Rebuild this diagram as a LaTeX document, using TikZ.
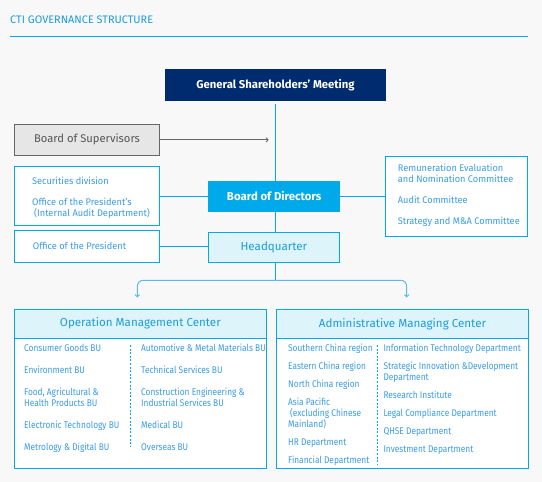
\documentclass[tikz,border=0pt]{standalone}
\usepackage{fontspec}
\setmainfont{Fira Sans}
\newfontfamily\condA[FakeStretch=0.96]{Fira Sans}
\newfontfamily\condB[FakeStretch=0.86]{Fira Sans}
\usetikzlibrary{arrows.meta}
\definecolor{bg}{HTML}{F8F8F8}
\definecolor{cyanb}{HTML}{00A9EA}
\definecolor{navy}{HTML}{002B6E}
\definecolor{lightc}{HTML}{DDF4FB}
\definecolor{txt}{HTML}{3A9CE6}
\definecolor{hdr}{HTML}{1C9DDB}
\definecolor{grayb}{HTML}{666666}
\definecolor{grayt}{HTML}{555555}
\definecolor{grayf}{HTML}{E6E6E6}
\definecolor{branch}{HTML}{5DB9EC}
\begin{document}
\begin{tikzpicture}[x=1pt,y=-1pt,
  outbox/.style={draw=cyanb,line width=1pt,fill=white,inner sep=0},
  lbl/.style={anchor=base west,inner sep=0,text=txt,font=\condA\fontsize{9.6}{11}\selectfont},
  sml/.style={anchor=base west,inner sep=0,text=txt,font=\condB\fontsize{9.7}{11}\selectfont},
  hdrbox/.style={draw=cyanb,line width=1pt,fill=lightc,inner sep=0,text=hdr,font=\fontsize{11.6}{14}\selectfont},
  conn/.style={draw=cyanb,line width=1pt},
  divider/.style={draw=cyanb,line width=0.8pt,dash pattern=on 2pt off 1.6pt},
  tip/.style={-{Straight Barb[length=2.2pt,width=4.5pt]}}]
\useasboundingbox (0,0) rectangle (542,482);
\fill[bg] (0,0) rectangle (542,482);

% title
\node[anchor=base west,inner sep=0,text=hdr,font=\fontsize{10.9}{12}\selectfont] (title) at (10,23.8) {CTI GOVERNANCE STRUCTURE};
\coordinate (ruleL) at (10,36);
\coordinate (ruleR) at (528,36);
\draw[cyanb,line width=1pt] (ruleL) -- (ruleR);

% top boxes
\node[fill=navy,inner sep=0,minimum width=221pt,minimum height=31.7pt,text=white,font=\bfseries\fontsize{11.3}{13}\selectfont] (gsm) at (275.5,84.9) {General Shareholders’ Meeting};
\node[draw=grayb,fill=grayf,line width=1pt,inner sep=0,minimum width=145.4pt,minimum height=31pt,text=grayt,font=\fontsize{11.2}{13}\selectfont] (sup) at (87,139.8) {Board of Supervisors};
\node[outbox,minimum width=145.4pt,minimum height=58.5pt] (sec) at (87,195.75) {};
\node[outbox,minimum width=145.4pt,minimum height=31.7pt] (op) at (87,246.2) {};
\node[fill=cyanb,inner sep=0,minimum width=131.7pt,minimum height=30.7pt,text=white,font=\bfseries\fontsize{11.4}{13}\selectfont] (bod) at (274.2,196.3) {Board of Directors};
\node[draw=cyanb,fill=lightc,line width=1pt,inner sep=0,minimum width=131.2pt,minimum height=30pt,text=hdr,font=\fontsize{11.6}{14}\selectfont] (hq) at (273.9,247.3) {Headquarter};
\node[outbox,minimum width=142.2pt,minimum height=79.8pt] (com) at (456.6,196.4) {};

% texts in side boxes
\node[lbl] (s1) at (32,184.9) {Securities division};
\node[lbl] (s2) at (32,205.9) {Office of the President’s};
\node[lbl] (s3) at (34,216.6) {(Internal Audit Department)};
\node[lbl] (o1) at (32.7,249.9) {Office of the President};
\node[lbl] (c1) at (397.7,171.9) {Remuneration Evaluation};
\node[lbl] (c2) at (397.7,182.9) {and Nomination Committee};
\node[lbl] (c3) at (397.7,203.9) {Audit Committee};
\node[lbl] (c4) at (397.7,224.9) {Strategy and M\&A Committee};

% connectors
\coordinate (gsmtop) at (275.3,104);
\coordinate (supend) at (268.7,139.8);
\coordinate (split) at (275.3,280.3);
\coordinate (ltip) at (137.3,297.5);
\coordinate (rtip) at (406.7,297.5);
\draw[conn] (gsmtop) -- (gsmtop |- bod.north);
\draw[draw=grayb,line width=0.8pt,tip] (sup.east) -- (supend);
\draw[conn] (sec.east |- bod.west) -- (bod.west);
\draw[conn] (bod.east) -- (bod.east -| com.west);
\draw[conn] (gsmtop |- bod.south) -- (gsmtop |- hq.north);
\draw[conn] (op.east) -- (op.east -| hq.west);
\draw[conn] (gsmtop |- hq.south) -- (split);
\draw[draw=branch,line width=1pt,rounded corners=6pt,tip] (split) -| (ltip);
\draw[draw=branch,line width=1pt,rounded corners=6pt,tip] (split) -| (rtip);

% Operation Management Center
\node[outbox,minimum width=252.7pt,minimum height=159.3pt] (omc) at (140.35,388.65) {};
\node[hdrbox,minimum width=252.7pt,minimum height=29.3pt] (omch) at (140.35,323.65) {Operation Management Center};
\draw[divider] (130.3,345) -- (130.3,447);
\node[sml] (a1) at (24,351.9) {Consumer Goods BU};
\node[sml] (a2) at (24,373.9) {Environment BU};
\node[sml] (a3) at (24,395.9) {Food, Agricultural \&};
\node[sml] (a4) at (24,406.9) {Health Products BU};
\node[sml] (a5) at (24,428.9) {Electronic Technology BU};
\node[sml] (a6) at (24,450.9) {Metrology \& Digital BU};
\node[sml] (b1) at (141,351.9) {Automotive \& Metal Materials BU};
\node[sml] (b2) at (141,373.9) {Technical Services BU};
\node[sml] (b3) at (141,395.9) {Construction Engineering \&};
\node[sml] (b4) at (141,406.9) {Industrial Services BU};
\node[sml] (b5) at (141,428.9) {Medical BU};
\node[sml] (b6) at (141,450.9) {Overseas BU};

% Administrative Managing Center
\node[outbox,minimum width=252.4pt,minimum height=159pt] (amc) at (402.5,388.8) {};
\node[hdrbox,minimum width=252.4pt,minimum height=29pt] (amch) at (402.5,323.8) {Administrative Managing Center};
\draw[divider] (377.7,345) -- (377.7,465);
\node[sml] (d1) at (288,351.9) {Southern China region};
\node[sml] (d2) at (288,369.9) {Eastern China region};
\node[sml] (d3) at (288,387.9) {North China region};
\node[sml] (d4) at (288,405.9) {Asia Pacific};
\node[sml] (d5) at (290,416.9) {(excluding Chinese};
\node[sml] (d6) at (288,427.9) {Mainland)};
\node[sml] (d7) at (288,445.9) {HR Department};
\node[sml] (d8) at (288,463.9) {Financial Department};
\node[sml] (e1) at (383.3,351.9) {Information Technology Department};
\node[sml] (e2) at (383.3,369.9) {Strategic Innovation \&Development};
\node[sml] (e3) at (383.3,380.9) {Department};
\node[sml] (e4) at (383.3,398.9) {Research Institute};
\node[sml] (e5) at (383.3,416.9) {Legal Compliance Department};
\node[sml] (e6) at (383.3,434.9) {QHSE Department};
\node[sml] (e7) at (383.3,452.9) {Investment Department};
\end{tikzpicture}
\end{document}
